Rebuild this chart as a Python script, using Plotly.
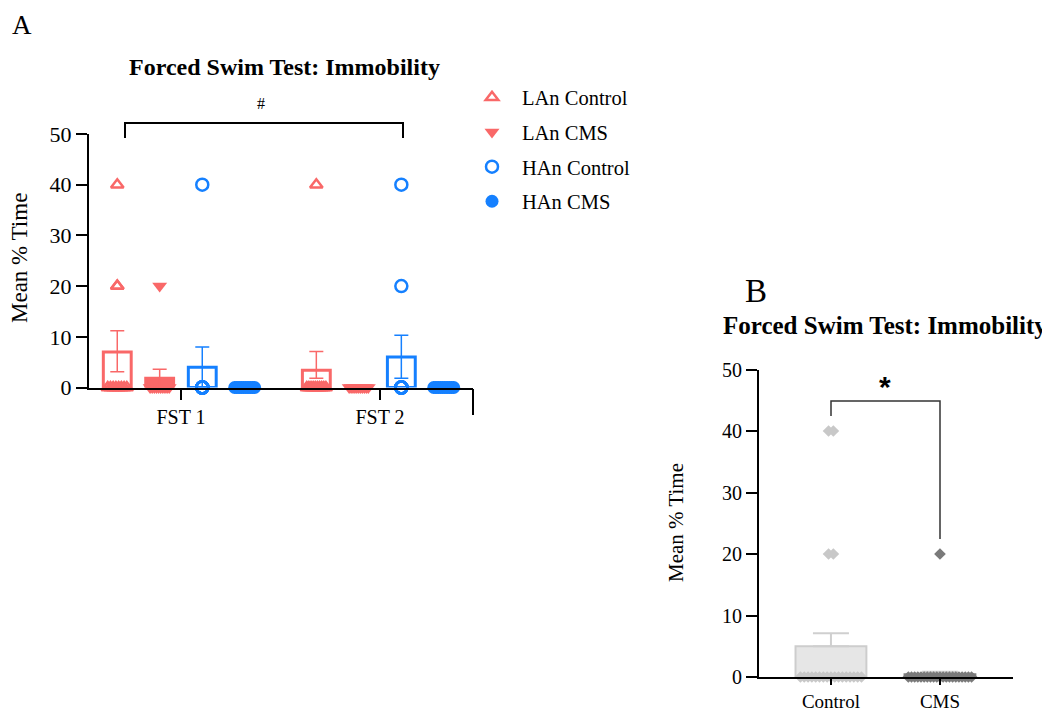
import plotly.graph_objects as go

W, H = 1050, 715
# map target picture pixels to paper coordinates (page body has an 8px margin)
def px(x):
    return (x - 8) / W
def py(y):
    return 1 - (y - 8) / H

SERIF = "Liberation Serif"

# ---------------- Panel A data ----------------
groups = ["FST 1", "FST 2"]
series_names = ["LAn Control", "LAn CMS", "HAn Control", "HAn CMS"]

lan_control_mean = [7.0, 3.4]
lan_control_err_up = [4.2, 3.7]
lan_control_err_down = [3.9, 1.6]
lan_control_points = [[40, 20, 20, 0, 0, 0, 0, 0, 0, 0, 0],
                      [40, 0, 0, 0, 0, 0, 0, 0, 0, 0, 0]]

lan_cms_mean = [1.8, 0.0]
lan_cms_err_up = [1.8, 0.0]
lan_cms_err_down = [1.8, 0.0]
lan_cms_points = [[20, 0, 0, 0, 0, 0, 0, 0, 0, 0, 0],
                  [0, 0, 0, 0, 0, 0, 0, 0, 0, 0, 0]]

han_control_mean = [4.0, 6.0]
han_control_err_up = [4.0, 4.3]
han_control_err_down = [4.0, 4.2]
han_control_points = [[40, 0, 0, 0, 0, 0, 0, 0, 0, 0],
                      [40, 20, 0, 0, 0, 0, 0, 0, 0, 0]]

han_cms_mean = [0.0, 0.0]
han_cms_err_up = [0.0, 0.0]
han_cms_err_down = [0.0, 0.0]
han_cms_points = [[0, 0, 0, 0, 0, 0, 0, 0, 0, 0],
                  [0, 0, 0, 0, 0, 0, 0, 0, 0, 0]]

# ---------------- Panel B data ----------------
b_groups = ["Control", "CMS"]
b_mean = [5.0, 0.45]
b_err_up = [2.1, 0.4]
b_control_points = [40, 40, 20, 20] + [0] * 17
b_cms_points = [20] + [0] * 21

# ---------------- styles ----------------
RED = "#F96868"
BLUE = "#1580FF"
series_colors = [RED, RED, BLUE, BLUE]
series_filled = [False, True, False, True]
series_symbols = ["triangle-up-open", "triangle-down", "circle-open", "circle"]
series_sizes = [11, 13, 12, 13]
series_offsets = [-0.32, -0.107, 0.107, 0.32]
series_spread = [0.048, 0.048, 0.0, 0.05]
BAR_W = 0.14

means = [lan_control_mean, lan_cms_mean, han_control_mean, han_cms_mean]
errs_up = [lan_control_err_up, lan_cms_err_up, han_control_err_up, han_cms_err_up]
errs_down = [lan_control_err_down, lan_cms_err_down, han_control_err_down, han_cms_err_down]
points = [lan_control_points, lan_cms_points, han_control_points, han_cms_points]


def spread_x(center, vals, zero_spread, dup_spread=0.0):
    """place repeated values side by side around the centre (scatter-dot style)"""
    xs = []
    counts, seen = {}, {}
    for v in vals:
        counts[v] = counts.get(v, 0) + 1
    for v in vals:
        n = counts[v]
        k = seen.get(v, 0)
        seen[v] = k + 1
        s = zero_spread if v == 0 else dup_spread
        if n == 1 or s == 0:
            xs.append(center)
        else:
            xs.append(center - s + 2 * s * k / (n - 1))
    return xs


fig = go.Figure()
group_pos = list(range(len(groups)))

for i, name in enumerate(series_names):
    c = series_colors[i]
    fig.add_trace(go.Bar(
        x=[g + series_offsets[i] for g in group_pos], y=means[i], width=BAR_W,
        marker=dict(color=c if series_filled[i] else "rgba(255,255,255,0)",
                    line=dict(color=c, width=3)),
        error_y=dict(type="data", symmetric=False, array=errs_up[i],
                     arrayminus=errs_down[i], color=c, thickness=1.5, width=7),
        showlegend=False, xaxis="x", yaxis="y", hoverinfo="skip"))

for i, name in enumerate(series_names):
    c = series_colors[i]
    xs, ys = [], []
    for g, vals in zip(group_pos, points[i]):
        xs += spread_x(g + series_offsets[i], vals, series_spread[i])
        ys += vals
    fig.add_trace(go.Scatter(
        x=xs, y=ys, mode="markers", name=name, legendgroup=name,
        marker=dict(symbol=series_symbols[i], size=series_sizes[i], color=c,
                    line=dict(width=2.5 if not series_filled[i] else 0, color=c)),
        cliponaxis=False, xaxis="x", yaxis="y"))

# Panel B
b_pos = list(range(len(b_groups)))
fig.add_trace(go.Bar(
    x=b_pos, y=b_mean, width=0.65,
    marker=dict(color=["#E6E6E6", "#808080"], line=dict(color=["#CDCDCD", "#808080"], width=2)),
    error_y=dict(type="data", symmetric=False, array=b_err_up, arrayminus=[0, 0],
                 color="#CFCFCF", thickness=2, width=18),
    showlegend=False, xaxis="x2", yaxis="y2", hoverinfo="skip"))

fig.add_trace(go.Scatter(
    x=spread_x(b_pos[0], b_control_points, 0.28, 0.022), y=b_control_points,
    mode="markers", marker=dict(symbol="diamond", size=9, color="#C8C8C8"),
    cliponaxis=False, showlegend=False, xaxis="x2", yaxis="y2"))
fig.add_trace(go.Scatter(
    x=spread_x(b_pos[1], b_cms_points, 0.29, 0.022), y=b_cms_points,
    mode="markers", marker=dict(symbol="diamond", size=9, color="#7A7A7A"),
    cliponaxis=False, showlegend=False, xaxis="x2", yaxis="y2"))

def axis_style(size):
    return dict(showline=True, linecolor="black", linewidth=2, ticks="outside",
                tickcolor="black", tickwidth=2, showgrid=False, zeroline=False,
                automargin=False, tickfont=dict(family=SERIF, size=size, color="black"))

fig.update_layout(
    width=W, height=H, margin=dict(l=0, r=0, t=0, b=0),
    paper_bgcolor="white", plot_bgcolor="rgba(0,0,0,0)",
    barmode="overlay", showlegend=True,
    xaxis=dict(domain=[px(89), px(473)], range=[-0.462, 1.467], tickvals=group_pos,
               ticktext=groups, ticklen=10, anchor="y", **axis_style(20)),
    yaxis=dict(domain=[py(387.5), py(134)], range=[0, 50], dtick=10, ticklen=11,
               anchor="x", **axis_style(22)),
    xaxis2=dict(domain=[px(759), px(1013)], range=[-0.66, 1.67], tickvals=b_pos,
                ticktext=b_groups, ticklen=6, anchor="y2", **axis_style(19)),
    yaxis2=dict(domain=[py(677), py(369.5)], range=[0, 50], dtick=10, ticklen=11,
                anchor="x2", **axis_style(20)),
    legend=dict(x=px(462), y=py(77.5), xanchor="left", yanchor="top",
                font=dict(family=SERIF, size=20.5, color="black"),
                itemwidth=50, tracegroupgap=5, bgcolor="rgba(0,0,0,0)"),
    font=dict(family=SERIF, color="black"),
)

ann = [
    dict(text="<b>Forced Swim Test: Immobility</b>", x=px(284), y=py(67), font=dict(size=24)),
    dict(text="#", x=px(261), y=py(103), font=dict(size=16)),
    dict(text="Mean % Time", x=px(20), y=py(258), textangle=-90, font=dict(size=23)),
    dict(text="B", x=px(756), y=py(291), font=dict(size=33)),
    dict(text="<b>Forced Swim Test: Immobility</b>", x=px(885), y=py(325), font=dict(size=25)),
    dict(text="<b>*</b>", x=px(885), y=py(386.5), font=dict(size=30, family="Liberation Sans")),
    dict(text="Mean % Time", x=px(676), y=py(523), textangle=-90, font=dict(size=21)),
]
for a in ann:
    a.update(xref="paper", yref="paper", showarrow=False, xanchor="center", yanchor="middle")
    a["font"] = dict(family=a["font"].get("family", SERIF), size=a["font"]["size"], color="black")
# panel letter A, anchored to the top edge so it is not cut
ann.append(dict(text="A", x=px(22), y=1, xref="paper", yref="paper", showarrow=False,
                xanchor="center", yanchor="top", font=dict(family=SERIF, size=27, color="black")))
fig.update_layout(annotations=ann)

def path(pts):
    return "M " + " L ".join(f"{px(x)},{py(y)}" for x, y in pts)

fig.update_layout(shapes=[
    dict(type="path", xref="paper", yref="paper", path=path([(125, 138), (125, 123), (403, 123), (403, 138)]),
         line=dict(color="black", width=2)),
    dict(type="line", xref="paper", yref="paper", x0=px(473), x1=px(473), y0=py(389), y1=py(415),
         line=dict(color="black", width=2)),
    dict(type="path", xref="paper", yref="paper", path=path([(831, 416), (831, 401), (940, 401), (940, 539)]),
         line=dict(color="#333333", width=1.5)),
])

fig.write_html("out.html")
